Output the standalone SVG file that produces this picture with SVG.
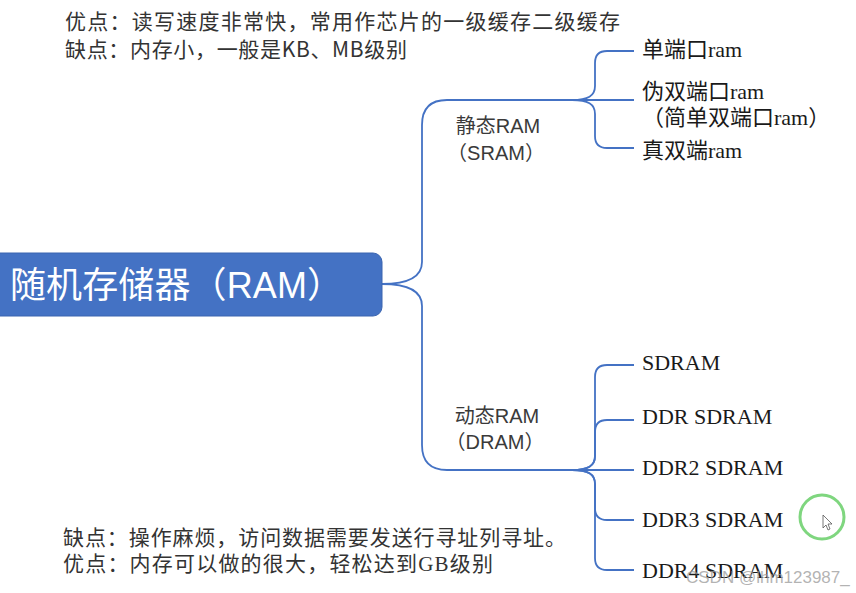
<svg xmlns="http://www.w3.org/2000/svg" width="856" height="593" viewBox="0 0 856 593">
<style>
  .note { font-family: "Noto Sans CJK SC", "Liberation Sans", sans-serif; font-size: 21px; fill: #333333; }
  .note2 { font-family: "Liberation Serif", "Noto Sans CJK SC", serif; font-size: 21px; fill: #333333; }
  .root { font-family: "Liberation Sans", "Noto Sans CJK SC", sans-serif; font-size: 36px; fill: #ffffff; }
  .mid { font-family: "Liberation Sans", "Noto Sans CJK SC", sans-serif; font-size: 20px; fill: #3a3a3a; text-anchor: middle; }
  .leaf { font-family: "Liberation Serif", "Noto Sans CJK SC", serif; font-size: 22px; fill: #1a1a1a; }
  .conn { fill: none; stroke: #4472C4; stroke-width: 1.8; }
</style>
<rect width="856" height="593" fill="#ffffff"/>

<g id="notes-top">
  <text class="note" x="65" y="29" textLength="555" lengthAdjust="spacing">优点：读写速度非常快，常用作芯片的一级缓存二级缓存</text>
  <text class="note" x="65" y="57" textLength="342" lengthAdjust="spacing">缺点：内存小，一般是KB、MB级别</text>
</g>
<g id="notes-bottom">
  <text class="note2" x="63" y="545" textLength="503" lengthAdjust="spacing">缺点：操作麻烦，访问数据需要发送行寻址列寻址。</text>
  <text class="note2" x="63" y="571" textLength="430" lengthAdjust="spacing">优点：内存可以做的很大，轻松达到GB级别</text>
</g>

<g id="connectors">
  <path class="conn" d="M382,284 C406,284 422,278 422,262 V125 Q422,100 447,100 H578"/>
  <path class="conn" d="M382,284 C406,284 422,290 422,306 V445 Q422,470 447,470 H578"/>
  <path class="conn" d="M572,100 C588,100 595,96 595,86 V63 Q595,51 607,51 H634"/>
  <path class="conn" d="M572,100 H634"/>
  <path class="conn" d="M572,100 C588,100 595,104 595,114 V136 Q595,148 607,148 H634"/>
  <path class="conn" d="M572,470 C588,470 595,466 595,456 V377 Q595,365 607,365 H634"/>
  <path class="conn" d="M572,470 C588,470 595,466 595,456 V432 Q595,420 607,420 H634"/>
  <path class="conn" d="M572,470 H634"/>
  <path class="conn" d="M572,470 C588,470 595,474 595,484 V508 Q595,520 607,520 H634"/>
  <path class="conn" d="M572,470 C588,470 595,474 595,484 V558 Q595,570 607,570 H634"/>
</g>

<g id="root">
  <rect x="-12" y="253" width="394" height="63" rx="9" fill="#4472C4" stroke="#3B65B0" stroke-width="1"/>
  <text class="root" x="10" y="298" textLength="333" lengthAdjust="spacing">随机存储器（RAM）</text>
</g>

<g id="sram">
  <text class="mid" x="498" y="133">静态RAM</text>
  <text class="mid" x="496" y="160">（SRAM）</text>
</g>
<g id="dram">
  <text class="mid" x="497" y="423">动态RAM</text>
  <text class="mid" x="495" y="449">（DRAM）</text>
</g>

<g id="leaf-single"><text class="leaf" x="642" y="57">单端口ram</text></g>
<g id="leaf-pseudo">
  <text class="leaf" x="642" y="99">伪双端口ram</text>
  <text class="leaf" x="642" y="125">（简单双端口ram）</text>
</g>
<g id="leaf-true"><text class="leaf" x="642" y="158">真双端ram</text></g>

<g id="leaf-sdram"><text class="leaf" x="642" y="370">SDRAM</text></g>
<g id="leaf-ddr"><text class="leaf" x="642" y="424">DDR SDRAM</text></g>
<g id="leaf-ddr2"><text class="leaf" x="642" y="475">DDR2 SDRAM</text></g>
<g id="leaf-ddr3"><text class="leaf" x="642" y="527">DDR3 SDRAM</text></g>
<g id="leaf-ddr4"><text class="leaf" x="642" y="578">DDR4 SDRAM</text></g>

<g id="overlay">
  <circle cx="822" cy="517" r="22" fill="none" stroke="#7FD67F" stroke-width="3"/>
  <path d="M823,515 L823,528 L826,525 L828,530 L830,529 L828,524 L832,524 Z" fill="#ffffff" stroke="#555555" stroke-width="0.8"/>
  <text x="686" y="583" font-family="Liberation Sans, sans-serif" font-size="17" fill="#9a9a9a" fill-opacity="0.75">CSDN @lhm123987_</text>
</g>
</svg>
